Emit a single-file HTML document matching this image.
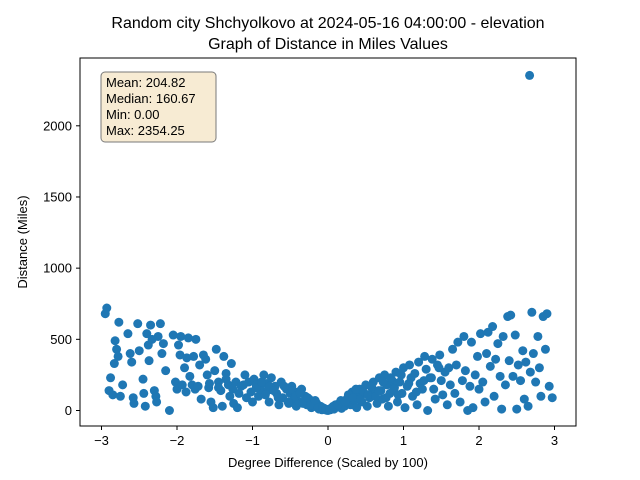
<!DOCTYPE html>
<html><head><meta charset="utf-8"><style>
body{margin:0;background:#fff;font-family:"Liberation Sans","DejaVu Sans",sans-serif}
svg{display:block}
</style></head><body>
<svg id="c" width="640" height="480">
<rect width="640" height="480" fill="#fff"/>
<text x="328" y="28" font-size="16" text-anchor="middle">Random city Shchyolkovo at 2024-05-16 04:00:00  - elevation</text>
<text x="328" y="49" font-size="16" text-anchor="middle">Graph of Distance in Miles Values</text>
<g id="marks"></g>
<rect x="80" y="58" width="496" height="368" fill="none" stroke="#000" stroke-width="1"/>
<g id="xt"></g>
<g id="yt"></g>
<text x="328" y="467" font-size="13" text-anchor="middle">Degree Difference (Scaled by 100)</text>
<text transform="translate(27,242) rotate(-90)" font-size="13" text-anchor="middle">Distance (Miles)</text>
<g>
<rect x="101" y="72" width="115" height="70" rx="4" fill="#f7ebd3" stroke="#7a7a7a" stroke-width="1"/>
<text x="106" y="87" font-size="13">Mean: 204.82</text>
<text x="106" y="103" font-size="13">Median: 160.67</text>
<text x="106" y="119" font-size="13">Min: 0.00</text>
<text x="106" y="135" font-size="13">Max: 2354.25</text>
</g>
</svg>
<script>
const xTicks=[-3,-2,-1,0,1,2,3];
const yTicks=[0,500,1000,1500,2000];
const xVals=[-2.95,-2.93,-2.9,-2.88,-2.85,-2.83,-2.82,-2.8,-2.78,-2.77,-2.75,-2.72,-2.65,-2.62,-2.6,-2.58,-2.57,-2.52,-2.5,-2.45,-2.44,-2.42,-2.4,-2.38,-2.37,-2.35,-2.33,-2.3,-2.28,-2.27,-2.25,-2.22,-2.2,-2.18,-2.15,-2.1,-2.05,-2.02,-2.0,-1.98,-1.96,-1.95,-1.93,-1.9,-1.88,-1.87,-1.85,-1.83,-1.8,-1.78,-1.76,-1.75,-1.72,-1.7,-1.68,-1.65,-1.62,-1.6,-1.58,-1.55,-1.52,-1.5,-1.48,-1.45,-1.42,-1.4,-1.38,-1.35,-1.32,-1.3,-1.28,-1.25,-1.22,-1.2,-1.18,-1.15,-1.1,-1.08,-1.05,-1.02,-1.0,-0.98,-0.95,-0.92,-0.9,-0.85,-0.82,-0.8,-0.78,-0.75,-0.7,-0.68,-0.65,-0.62,-0.6,-0.55,-0.52,-0.5,-0.48,-0.45,-0.42,-0.4,-0.38,-0.35,-0.3,-0.28,-0.25,-0.22,-0.2,-0.18,-0.15,-0.12,-0.1,-0.08,-0.05,-0.02,0,
0.03,0.05,0.08,0.1,0.12,0.15,0.18,0.2,0.22,0.25,0.27,0.3,0.32,0.35,0.38,0.4,0.42,0.45,0.48,0.5,0.52,0.55,0.58,0.6,0.62,0.65,0.68,0.7,0.72,0.75,0.78,0.8,0.82,0.85,0.88,0.9,0.92,0.95,0.98,1.0,1.02,1.05,1.08,1.1,1.12,1.15,1.18,1.2,1.22,1.25,1.28,1.3,1.32,1.35,1.38,1.4,1.42,1.45,1.48,1.5,1.52,1.55,1.58,1.6,1.62,1.65,1.68,1.7,1.72,1.75,1.78,1.8,1.82,1.85,1.88,1.9,1.92,1.95,1.98,2.0,2.02,2.05,2.08,2.1,2.12,2.15,2.18,2.2,2.22,2.25,2.28,2.3,2.32,2.35,2.38,2.4,2.42,2.45,2.48,2.5,2.52,2.55,2.58,2.6,2.62,2.65,2.67,2.68,2.7,2.72,2.75,2.78,2.8,2.82,2.85,2.88,2.9,2.93,2.97,
-0.95,-0.88,-0.83,-0.77,-0.72,-0.66,-0.58,-0.53,-0.47,-0.43,-0.37,-0.33,-0.27,-0.23,-0.17,-0.13,-0.07,-0.03,0.02,0.07,0.13,0.17,0.23,0.28,0.33,0.37,0.43,0.47,0.53,0.57,0.63,0.67,0.73,0.77,0.83,0.87,0.93,0.97,-1.12,-1.26,-1.35,-1.45,-1.57,1.07,1.17,1.27,1.37,1.47];
const yVals=[680,720,140,230,110,330,490,430,380,620,100,180,540,400,340,90,50,610,420,220,120,30,540,460,350,600,500,140,100,60,520,610,400,470,280,0,530,200,150,460,390,520,180,300,130,370,510,240,180,380,150,500,170,320,80,390,360,250,160,60,20,280,430,200,140,30,380,260,180,100,330,50,200,20,120,170,250,90,200,130,60,220,180,100,150,250,190,140,60,230,170,120,40,200,90,150,50,120,170,80,30,130,60,150,100,40,80,20,60,30,50,10,30,5,15,2,0,
5,20,10,40,25,50,15,60,30,80,110,40,130,70,20,100,150,60,120,180,30,90,160,200,120,50,230,140,80,250,180,30,120,210,160,270,60,200,120,300,20,170,320,230,100,260,40,340,190,150,380,290,0,230,360,150,80,320,390,210,110,270,40,300,180,430,120,320,480,60,210,520,280,0,170,480,20,250,380,150,540,200,60,400,550,310,590,100,360,470,240,10,520,180,660,350,670,240,530,10,320,210,420,80,340,30,2354,270,690,400,200,520,300,100,660,430,680,170,90,
160,200,110,170,140,90,170,60,140,100,120,50,90,40,70,20,20,8,10,30,40,70,60,110,90,150,80,130,110,170,100,140,200,90,230,150,110,250,180,150,220,160,190,190,130,210,230,300];
const X=v=>328+v*75.5;
const Y=v=>410.5-v*0.14235;
const NS="http://www.w3.org/2000/svg";
const g=document.getElementById('marks');
for(let i=0;i<xVals.length;i++){
 const c=document.createElementNS(NS,'circle');
 c.setAttribute('cx',X(xVals[i]));c.setAttribute('cy',Y(yVals[i]));c.setAttribute('r',4.5);c.setAttribute('fill','#1f77b4');
 
 
 g.appendChild(c);
}
const xt=document.getElementById('xt');
xTicks.forEach(t=>{
 const l=document.createElementNS(NS,'line');
 l.setAttribute('x1',X(t));l.setAttribute('x2',X(t));l.setAttribute('y1',426);l.setAttribute('y2',430);l.setAttribute('stroke','#000');
 
 
 xt.appendChild(l);
 const s=document.createElementNS(NS,'text');
 s.setAttribute('x',X(t));s.setAttribute('y',445);s.setAttribute('font-size','13');s.setAttribute('text-anchor','middle');
 s.textContent=(t<0?'\u2212'+(-t):t);
 
 
 xt.appendChild(s);
});
const yt=document.getElementById('yt');
yTicks.forEach(t=>{
 const l=document.createElementNS(NS,'line');
 l.setAttribute('x1',76);l.setAttribute('x2',80);l.setAttribute('y1',Y(t));l.setAttribute('y2',Y(t));l.setAttribute('stroke','#000');
 
 
 yt.appendChild(l);
 const s=document.createElementNS(NS,'text');
 s.setAttribute('x',72);s.setAttribute('y',Y(t)+4.5);s.setAttribute('font-size','13');s.setAttribute('text-anchor','end');
 s.textContent=t;
 
 
 yt.appendChild(s);
});
</script>
</body></html>
